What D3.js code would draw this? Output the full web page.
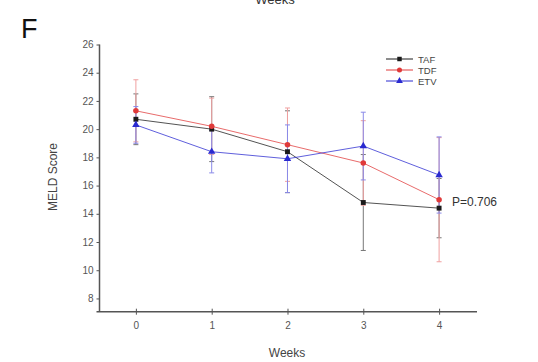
<!DOCTYPE html>
<html>
<head>
<meta charset="utf-8">
<script src="https://cdn.jsdelivr.net/npm/d3@7"></script>
<style>
  body { margin: 0; background: #fff; }
  text { font-family: "Liberation Sans", Arial, sans-serif; }
</style>
</head>
<body>
<div id="canvas"></div>
<script>
// data
const weeks = [0, 1, 2, 3, 4];
const yTicks = [8, 10, 12, 14, 16, 18, 20, 22, 24, 26];
const seriesNames = ["TAF", "TDF", "ETV"];
const tafMean = [20.7, 20.0, 18.4, 14.8, 14.4];
const tafSd   = [1.8, 2.3, 2.9, 3.4, 2.1];
const tdfMean = [21.3, 20.2, 18.9, 17.6, 15.0];
const tdfSd   = [2.2, 2.0, 2.6, 3.0, 4.4];
const etvMean = [20.3, 18.4, 17.9, 18.8, 16.75];
const etvSd   = [1.3, 1.5, 2.4, 2.4, 2.7];
const pText = "P=0.706";

const W = 538, H = 362;
const plotLeft = 99.5, plotRight = 477, plotTop = 44.5, plotBottom = 311.7;

const svg = d3.select("#canvas").append("svg")
    .attr("width", W)
    .attr("height", H);

const x = d3.scaleLinear().domain([-0.48, 4.5]).range([plotLeft, plotRight]);
const y = d3.scaleLinear().domain([7.06, 26]).range([plotBottom, plotTop]);

const series = [
    {name: seriesNames[0], mean: tafMean, sd: tafSd, color: "#1a1a1a", bar: "#777", shape: d3.symbolSquare},
    {name: seriesNames[1], mean: tdfMean, sd: tdfSd, color: "#e03a3a", bar: "#f0a0a0", shape: d3.symbolCircle},
    {name: seriesNames[2], mean: etvMean, sd: etvSd, color: "#2a2ad0", bar: "#8a8ae8", shape: d3.symbolTriangle}
];

// top cropped title from the panel above
svg.append("text").attr("x", 275).attr("y", 4)
    .attr("text-anchor", "middle").attr("font-size", 13).attr("fill", "#333")
    .text("Weeks");

// panel letter
svg.append("text").attr("x", 21).attr("y", 38)
    .attr("font-size", 27).attr("fill", "#111")
    .text("F");

// y axis
const yAxis = svg.append("g")
    .attr("transform", "translate(" + plotLeft + ",0)")
    .call(d3.axisLeft(y).tickValues(yTicks).tickSize(3).tickSizeOuter(0));
yAxis.select(".domain").attr("stroke", "#555").attr("stroke-width", 1.5)
    .attr("d", "M0," + y(26) + "V" + plotBottom);
yAxis.selectAll(".tick line").attr("stroke", "#555");
yAxis.selectAll(".tick text").attr("font-size", 10).attr("fill", "#555")
    .attr("font-family", "Liberation Sans, Arial, sans-serif");

// x axis
const xAxis = svg.append("g")
    .attr("transform", "translate(0," + plotBottom + ")")
    .call(d3.axisBottom(x).tickValues(weeks).tickSize(3).tickSizeOuter(0).tickFormat(d3.format("d")));
xAxis.select(".domain").attr("stroke", "#555").attr("stroke-width", 1.5)
    .attr("d", "M" + (plotLeft - 3) + ",0H" + plotRight);
xAxis.selectAll(".tick line").attr("stroke", "#555").attr("y1", -3).attr("y2", 3);
xAxis.selectAll(".tick text").attr("font-size", 10).attr("fill", "#555").attr("dy", "1.1em")
    .attr("font-family", "Liberation Sans, Arial, sans-serif");

// axis titles
svg.append("text").attr("x", 287).attr("y", 357)
    .attr("text-anchor", "middle").attr("font-size", 12).attr("fill", "#444")
    .text("Weeks");
svg.append("text")
    .attr("transform", "translate(57,177) rotate(-90)")
    .attr("text-anchor", "middle").attr("font-size", 12).attr("fill", "#444")
    .text("MELD Score");

// error bars
series.forEach(s => {
    const g = svg.append("g");
    weeks.forEach((w, i) => {
        const lo = s.mean[i] - s.sd[i], hi = s.mean[i] + s.sd[i];
        g.append("line")
            .attr("x1", x(w)).attr("x2", x(w))
            .attr("y1", y(lo)).attr("y2", y(hi))
            .attr("stroke", s.bar).attr("stroke-width", 1);
        [lo, hi].forEach(v => {
            g.append("line")
                .attr("x1", x(w) - 2.5).attr("x2", x(w) + 2.5)
                .attr("y1", y(v)).attr("y2", y(v))
                .attr("stroke", s.bar).attr("stroke-width", 1);
        });
    });
});

// lines + markers
const line = d3.line().x((d, i) => x(weeks[i])).y(d => y(d));
series.forEach(s => {
    svg.append("path")
        .attr("d", line(s.mean))
        .attr("fill", "none")
        .attr("stroke", s.color)
        .attr("stroke-opacity", 0.75)
        .attr("stroke-width", 1);
    svg.selectAll(null).data(s.mean).enter().append("path")
        .attr("transform", (d, i) => "translate(" + x(weeks[i]) + "," + y(d) + ")")
        .attr("d", d3.symbol().type(s.shape).size(24))
        .attr("fill", s.color);
});

// legend
const legend = svg.append("g");
series.forEach((s, i) => {
    const ly = 59 + i * 11;
    legend.append("line")
        .attr("x1", 386).attr("x2", 413).attr("y1", ly).attr("y2", ly)
        .attr("stroke", s.color).attr("stroke-width", 1);
    legend.append("path")
        .attr("transform", "translate(399.5," + ly + ")")
        .attr("d", d3.symbol().type(s.shape).size(20))
        .attr("fill", s.color);
    legend.append("text")
        .attr("x", 418).attr("y", ly + 3.5)
        .attr("font-size", 9.5).attr("fill", "#444")
        .text(s.name);
});

// p value
svg.append("text")
    .attr("x", 452).attr("y", 206)
    .attr("font-size", 12).attr("fill", "#333")
    .text(pText);
</script>
</body>
</html>
